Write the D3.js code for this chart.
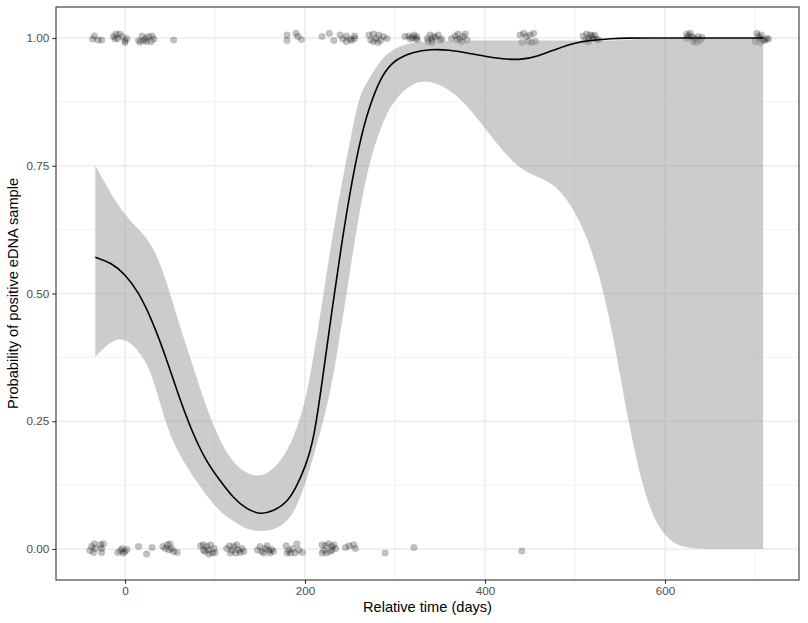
<!DOCTYPE html>
<html>
<head>
<meta charset="utf-8">
<script src="https://cdn.jsdelivr.net/npm/d3@7"></script>
<style>
  body { margin: 0; background: #fff; }
  svg { display: block; font-family: "Liberation Sans", Arial, sans-serif; }
</style>
</head>
<body>
<svg id="viz" width="808" height="623"></svg>
<script>
// smoothed fit (days, probability, 95% band)
const fitDays  = [-33, -15, 0, 15, 30, 45, 60, 75, 90, 105, 120, 135, 150, 165, 180, 190, 200, 210, 220, 230, 240, 250, 260, 270, 285, 300, 320, 340, 360, 380, 400, 420, 440, 460, 480, 500, 520, 540, 560, 580, 600, 620, 650, 680, 709];
const fitValue = [0.571, 0.560, 0.538, 0.503, 0.448, 0.378, 0.297, 0.227, 0.172, 0.135, 0.100, 0.078, 0.067, 0.074, 0.091, 0.120, 0.159, 0.214, 0.340, 0.468, 0.590, 0.699, 0.790, 0.859, 0.928, 0.958, 0.973, 0.978, 0.977, 0.971, 0.964, 0.959, 0.957, 0.965, 0.979, 0.991, 0.996, 0.999, 1.000, 1.000, 1.000, 1.000, 1.000, 1.000, 1.000];
const fitLower = [0.376, 0.409, 0.413, 0.389, 0.346, 0.243, 0.185, 0.143, 0.106, 0.073, 0.055, 0.038, 0.034, 0.037, 0.052, 0.080, 0.125, 0.185, 0.247, 0.323, 0.431, 0.544, 0.655, 0.748, 0.832, 0.882, 0.914, 0.917, 0.900, 0.869, 0.823, 0.778, 0.742, 0.727, 0.711, 0.662, 0.584, 0.446, 0.238, 0.084, 0.021, 0.001, 0.000, 0.000, 0.000];
const fitUpper = [0.750, 0.693, 0.653, 0.626, 0.597, 0.532, 0.440, 0.361, 0.278, 0.213, 0.168, 0.147, 0.141, 0.155, 0.190, 0.231, 0.285, 0.381, 0.493, 0.607, 0.709, 0.797, 0.888, 0.916, 0.961, 0.981, 0.992, 0.994, 0.995, 0.995, 0.995, 0.995, 0.995, 0.995, 0.995, 0.995, 0.995, 0.995, 0.997, 0.998, 0.999, 0.999, 0.999, 0.999, 0.999];

// jittered samples: positive (near 1) and negative (near 0)
const posDays = [-34, -36, -30, -26, -13, -10, -6, -8, -3, 0, 2, 0, -11, 15, 19, 21, 23, 26, 30, 32, 29, 24, 17, 54,
  180, 180, 190, 192, 196, 219, 227, 232, 239, 242, 246, 246, 250, 255, 255, 252,
  271, 273, 276, 279, 282, 284, 287, 291, 276, 281, 311, 315, 319, 323, 325, 317, 321, 324,
  336, 337, 339, 345, 341, 348, 350, 341, 343, 352, 363, 367, 370, 372, 376, 380, 374, 369, 378,
  439, 443, 446, 450, 454, 441, 448, 452, 456, 509, 513, 517, 520, 524, 511, 515, 519, 522, 526, 515,
  624, 628, 630, 633, 637, 641, 624, 631, 635, 639, 626, 702, 704, 706, 707, 709, 713, 700, 706, 711, 715];
const posValues = [1.004, 0.998, 0.996, 0.996, 1.003, 1.008, 1.008, 0.999, 1.003, 0.995, 0.999, 0.991, 0.998, 0.995, 1.004, 0.995, 0.999, 1.003, 1.004, 0.998, 0.993, 0.993, 0.992, 0.996,
  1.006, 0.995, 1.009, 1.003, 0.997, 1.003, 1.009, 0.995, 1.006, 0.998, 1.004, 0.993, 0.998, 1.004, 0.999, 0.995,
  1.006, 0.996, 1.008, 0.999, 1.006, 0.995, 1.003, 0.999, 0.993, 0.991, 1.003, 1.004, 1.001, 0.999, 0.996, 0.998, 1.006, 1.003,
  0.999, 0.993, 1.006, 1.001, 0.996, 1.006, 0.995, 0.991, 1.003, 0.998, 0.999, 1.004, 1.008, 0.998, 1.003, 0.996, 0.993, 0.996, 1.008,
  1.006, 1.009, 1.003, 1.006, 1.009, 0.991, 0.993, 0.991, 0.993, 1.004, 1.008, 1.006, 0.999, 0.998, 0.995, 0.999, 1.004, 1.006, 0.996, 0.993,
  1.008, 1.009, 1.003, 0.999, 1.003, 1.001, 0.999, 0.993, 0.991, 0.995, 1.004, 1.009, 1.003, 0.999, 1.006, 0.996, 0.999, 0.993, 0.991, 0.995, 0.998];
const negDays = [-39, -37, -34, -33, -35, -27, -26, -26, -24, -8, -5, -2, 0, 2, -3, 15, 24, 30,
  42, 47, 50, 52, 54, 58, 49, 45, 84, 87, 91, 93, 95, 99, 100, 89, 97, 87, 93,
  113, 116, 119, 121, 123, 126, 128, 130, 117, 124, 132, 147, 150, 152, 156, 158, 160, 163, 165, 154, 161,
  179, 182, 186, 191, 193, 197, 184, 189, 180, 219, 223, 226, 230, 232, 234, 221, 224, 228, 230, 219,
  245, 249, 254, 256, 289, 321, 441];
const negValues = [-0.003, 0.005, 0.010, 0.001, -0.007, 0.008, 0.001, -0.007, 0.010, -0.007, -0.003, -0.008, -0.005, -0.001, 0.001, 0.005, -0.010, 0.003,
  0.005, 0.008, 0.010, 0.001, -0.005, -0.007, -0.002, 0.001, 0.006, 0.008, 0.005, -0.002, 0.008, 0.001, -0.007, -0.005, -0.008, -0.002, -0.010,
  0.001, 0.006, -0.003, 0.005, -0.008, -0.002, -0.007, 0.001, -0.008, 0.008, -0.005, -0.002, 0.005, -0.005, 0.001, 0.006, -0.003, -0.001, -0.005, -0.008, -0.008,
  0.006, -0.003, 0.001, 0.010, -0.002, -0.007, -0.008, -0.008, -0.008, 0.008, 0.006, 0.010, 0.005, 0.008, 0.001, -0.003, -0.008, -0.005, -0.002, -0.008,
  0.003, 0.006, 0.008, 0.001, -0.008, 0.003, -0.004];

const xMajor = [0, 200, 400, 600];
const xMinor = [100, 300, 500, 700];
const yMajor = [0, 0.25, 0.5, 0.75, 1];
const yMinor = [0.125, 0.375, 0.625, 0.875];

const svg = d3.select("#viz");
const panel = {left: 56, right: 799, top: 7, bottom: 580};

const x = d3.scaleLinear().domain([-76.7, 748.9]).range([panel.left, panel.right]);
const y = d3.scaleLinear().domain([-0.0607, 1.0607]).range([panel.bottom, panel.top]);

const fit = fitDays.map((d, i) => ({day: d, value: fitValue[i], lo: fitLower[i], hi: fitUpper[i]}));
const points = posDays.map((d, i) => ({day: d, value: posValues[i]}))
    .concat(negDays.map((d, i) => ({day: d, value: negValues[i]})));

// grid
const grid = svg.append("g");
grid.selectAll(".vmin").data(xMinor).enter().append("line")
    .attr("x1", x).attr("x2", x).attr("y1", panel.top).attr("y2", panel.bottom)
    .attr("stroke", "#ebebeb").attr("stroke-width", 0.7);
grid.selectAll(".hmin").data(yMinor).enter().append("line")
    .attr("x1", panel.left).attr("x2", panel.right).attr("y1", y).attr("y2", y)
    .attr("stroke", "#ebebeb").attr("stroke-width", 0.7);
grid.selectAll(".vmaj").data(xMajor).enter().append("line")
    .attr("x1", x).attr("x2", x).attr("y1", panel.top).attr("y2", panel.bottom)
    .attr("stroke", "#ebebeb").attr("stroke-width", 1.4);
grid.selectAll(".hmaj").data(yMajor).enter().append("line")
    .attr("x1", panel.left).attr("x2", panel.right).attr("y1", y).attr("y2", y)
    .attr("stroke", "#ebebeb").attr("stroke-width", 1.4);

// points
svg.append("g").selectAll("circle")
    .data(points)
    .enter()
    .append("circle")
    .attr("cx", (d) => x(d.day))
    .attr("cy", (d) => y(d.value))
    .attr("r", 3.3)
    .attr("fill", "#000")
    .attr("fill-opacity", 0.24)
    .attr("stroke", "#000")
    .attr("stroke-opacity", 0.15)
    .attr("stroke-width", 0.6);

// ribbon + fit line
const area = d3.area()
    .x((d) => x(d.day))
    .y0((d) => y(d.lo))
    .y1((d) => y(d.hi))
    .curve(d3.curveBasis);
svg.append("path")
    .datum(fit)
    .attr("d", area)
    .attr("fill", "#999")
    .attr("fill-opacity", 0.5);

const line = d3.line()
    .x((d) => x(d.day))
    .y((d) => y(d.value))
    .curve(d3.curveBasis);
svg.append("path")
    .datum(fit)
    .attr("d", line)
    .attr("fill", "none")
    .attr("stroke", "#000")
    .attr("stroke-width", 1.6);

// border
svg.append("rect")
    .attr("x", panel.left).attr("y", panel.top)
    .attr("width", panel.right - panel.left).attr("height", panel.bottom - panel.top)
    .attr("fill", "none").attr("stroke", "#333").attr("stroke-width", 1.1);

// axes
const xAxis = svg.append("g")
    .attr("transform", `translate(0,${panel.bottom})`)
    .call(d3.axisBottom(x).tickValues(xMajor).tickSize(3.7).tickPadding(3).tickFormat(d3.format("d")));
const yAxis = svg.append("g")
    .attr("transform", `translate(${panel.left},0)`)
    .call(d3.axisLeft(y).tickValues(yMajor).tickSize(3.7).tickPadding(3).tickFormat(d3.format(".2f")));
[xAxis, yAxis].forEach((a) => {
    a.select(".domain").remove();
    a.selectAll(".tick line").attr("stroke", "#333").attr("stroke-width", 1.1);
    a.selectAll(".tick text").attr("fill", "#4d4d4d").style("font-size", "11.7px")
        .style("font-family", "'Liberation Sans', Arial, sans-serif");
});

svg.append("text")
    .attr("x", (panel.left + panel.right) / 2)
    .attr("y", 612)
    .attr("text-anchor", "middle")
    .style("font-size", "14.6px")
    .text("Relative time (days)");

svg.append("text")
    .attr("transform", `translate(18,${(panel.top + panel.bottom) / 2}) rotate(-90)`)
    .attr("text-anchor", "middle")
    .style("font-size", "14.6px")
    .text("Probability of positive eDNA sample");
</script>
</body>
</html>
